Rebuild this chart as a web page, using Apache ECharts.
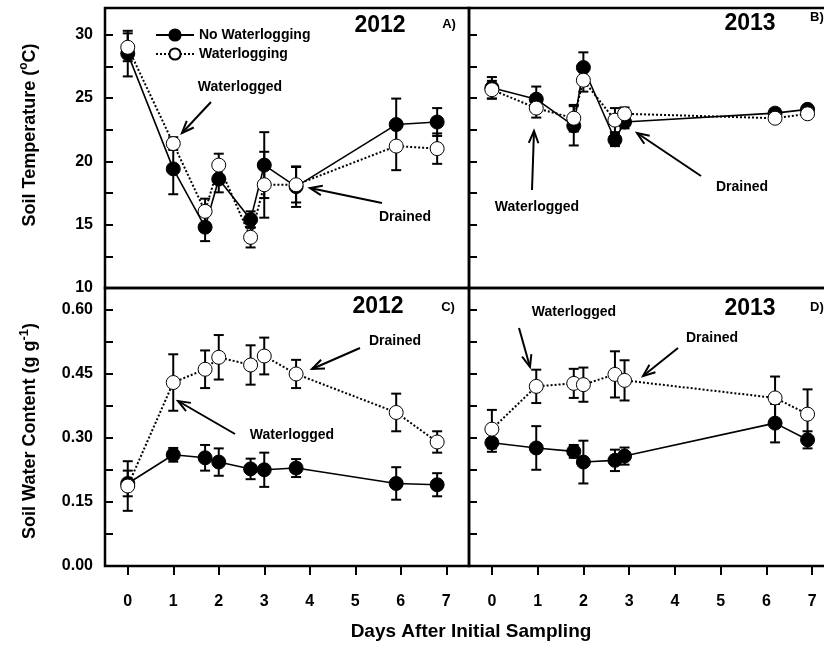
<!DOCTYPE html>
<html>
<head>
<meta charset="utf-8">
<script src="https://cdn.jsdelivr.net/npm/echarts/dist/echarts.min.js"></script>
<style>html,body{margin:0;padding:0;background:#fff;}#c{width:824px;height:648px;}</style>
</head>
<body>
<div id="c"></div>
<script>
// ---------- DATA ----------
const days2012 = [0, 1, 1.7, 2, 2.7, 3, 3.7, 5.9, 6.8];
const days2013 = [0, 0.97, 1.79, 2, 2.69, 2.9, 6.19, 6.9];
const xTicks = [0, 1, 2, 3, 4, 5, 6, 7];

const temp2012NoWL = [28.5, 19.4, 14.8, 18.6, 15.4, 19.7, 18.0, 22.9, 23.1];
const temp2012NoWLErr = [1.8, 2.0, 1.1, 1.05, 0.65, 2.6, 1.6, 2.05, 1.1];
const temp2012WL = [29.0, 21.4, 16.05, 19.7, 14.0, 18.15, 18.15, 21.2, 21.0];
const temp2012WLErr = [1.1, 0.5, 1.0, 0.9, 0.8, 2.6, 1.4, 1.9, 1.2];

const temp2013NoWL = [25.8, 24.9, 22.8, 27.4, 21.7, 23.1, 23.8, 24.1];
const temp2013NoWLErr = [0.85, 1.0, 1.55, 1.2, 0.5, 0.5, 0.3, 0.3];
const temp2013WL = [25.65, 24.2, 23.4, 26.4, 23.25, 23.75, 23.4, 23.75];
const temp2013WLErr = [0.7, 0.75, 1.05, 0.9, 0.95, 0.5, 0.3, 0.3];

const swc2012NoWL = [0.193, 0.26, 0.253, 0.243, 0.227, 0.225, 0.229, 0.193, 0.19];
const swc2012NoWLErr = [0.03, 0.016, 0.03, 0.032, 0.024, 0.04, 0.021, 0.038, 0.027];
const swc2012WL = [0.187, 0.429, 0.46, 0.488, 0.47, 0.491, 0.449, 0.359, 0.29];
const swc2012WLErr = [0.058, 0.066, 0.044, 0.052, 0.046, 0.043, 0.033, 0.044, 0.025];

const swc2013NoWL = [0.288, 0.276, 0.268, 0.243, 0.247, 0.257, 0.334, 0.295];
const swc2013NoWLErr = [0.021, 0.051, 0.015, 0.05, 0.025, 0.02, 0.045, 0.02];
const swc2013WL = [0.32, 0.42, 0.427, 0.424, 0.448, 0.434, 0.393, 0.355];
const swc2013WLErr = [0.045, 0.039, 0.034, 0.04, 0.054, 0.047, 0.05, 0.058];

// ---------- HELPERS ----------
const FONT = '"Liberation Sans", Arial, Helvetica, sans-serif';
const pts = (xs, ys) => xs.map((x, i) => [x, ys[i]]);
const errs = (xs, ys, es) => xs.map((x, i) => [x, ys[i] - es[i], ys[i] + es[i]]);

function errRender(params, api) {
  const x = api.value(0), lo = api.value(1), hi = api.value(2);
  const a = api.coord([x, lo]), b = api.coord([x, hi]);
  const w = 5;
  const st = { stroke: '#000', lineWidth: 2 };
  return { type: 'group', children: [
    { type: 'line', shape: { x1: a[0], y1: a[1], x2: b[0], y2: b[1] }, style: st },
    { type: 'line', shape: { x1: a[0] - w, y1: a[1], x2: a[0] + w, y2: a[1] }, style: st },
    { type: 'line', shape: { x1: b[0] - w, y1: b[1], x2: b[0] + w, y2: b[1] }, style: st }
  ]};
}

function panelSeries(idx, xs, yNo, eNo, yWL, eWL) {
  return [
    { type: 'custom', name: 'errNo' + idx, xAxisIndex: idx, yAxisIndex: idx, renderItem: errRender,
      data: errs(xs, yNo, eNo), encode: { x: 0, y: [1, 2] }, z: 2, silent: true },
    { type: 'custom', name: 'errWL' + idx, xAxisIndex: idx, yAxisIndex: idx, renderItem: errRender,
      data: errs(xs, yWL, eWL), encode: { x: 0, y: [1, 2] }, z: 2, silent: true },
    { type: 'line', name: 'No Waterlogging', xAxisIndex: idx, yAxisIndex: idx, data: pts(xs, yNo),
      symbol: 'circle', symbolSize: 14, z: 3, animation: false,
      itemStyle: { color: '#000', borderColor: '#000', borderWidth: 1 },
      lineStyle: { color: '#000', width: 1.6, type: 'solid' } },
    { type: 'line', name: 'Waterlogging', xAxisIndex: idx, yAxisIndex: idx, data: pts(xs, yWL),
      symbol: 'circle', symbolSize: 14, z: 4, animation: false,
      itemStyle: { color: '#fff', borderColor: '#000', borderWidth: 1 },
      lineStyle: { color: '#000', width: 2, type: 'dotted' } }
  ];
}

function xAxis(idx, bottom) {
  return {
    type: 'value', gridIndex: idx, min: -0.5, max: 7.5, position: 'bottom',
    axisLine: { show: false, onZero: false },
    splitLine: { show: false },
    axisTick: { show: bottom, inside: false, length: 9, lineStyle: { color: '#000', width: 2 }, customValues: xTicks },
    axisLabel: { show: bottom, margin: 28, color: '#000', fontFamily: FONT, fontWeight: 'bold', fontSize: 16, customValues: xTicks }
  };
}

function yAxis(idx, min, max, interval, labelStep, showLabel, decimals, labelMax) {
  return {
    type: 'value', gridIndex: idx, min: min, max: max, interval: interval, position: 'left',
    axisLine: { show: false, onZero: false },
    splitLine: { show: false },
    axisTick: { show: true, inside: true, length: 8, lineStyle: { color: '#000', width: 2 } },
    axisLabel: {
      show: showLabel, margin: 12, color: '#000', fontFamily: FONT, fontWeight: 'bold', fontSize: 16,
      formatter: function (v) {
        const r = v / labelStep;
        if (Math.abs(r - Math.round(r)) > 1e-6 || v > labelMax + 1e-9) return '';
        return v.toFixed(decimals);
      }
    }
  };
}

function arrow(x1, y1, x2, y2) {
  const ang = Math.atan2(y2 - y1, x2 - x1);
  const L = 13, spread = 0.38;
  const h1 = [x2 - L * Math.cos(ang - spread), y2 - L * Math.sin(ang - spread)];
  const h2 = [x2 - L * Math.cos(ang + spread), y2 - L * Math.sin(ang + spread)];
  return [
    { type: 'line', shape: { x1: x1, y1: y1, x2: x2, y2: y2 }, style: { stroke: '#000', lineWidth: 2 }, z: 10 },
    { type: 'polyline', shape: { points: [h1, [x2, y2], h2] }, style: { stroke: '#000', lineWidth: 2, fill: null }, z: 10 }
  ];
}
function label(text, x, y, size, align) {
  return { type: 'text', x: x, y: y, z: 10,
    style: { text: text, fill: '#000', font: 'bold ' + size + 'px ' + FONT, align: align || 'center', verticalAlign: 'middle' } };
}

// ---------- CHART ----------
const grids = [
  { left: 105, top: 8, width: 364, height: 280 },
  { left: 469, top: 8, width: 366, height: 280 },
  { left: 105, top: 288, width: 364, height: 278 },
  { left: 469, top: 288, width: 366, height: 278 }
].map(g => Object.assign(g, { show: true, borderColor: '#000', borderWidth: 2.5, backgroundColor: 'transparent',
  containLabel: false, outerBoundsMode: 'none' }));

const graphics = [].concat(
  label('2012', 380, 26, 23), label('A)', 449, 24, 13),
  label('Waterlogged', 240, 87, 14), arrow(211, 102, 182, 133),
  label('Drained', 405, 217, 14), arrow(382, 203, 310, 188),

  label('2013', 750, 24, 23), label('B)', 810, 17, 13, 'left'),
  label('Waterlogged', 537, 207, 14), arrow(532, 190, 534, 131),
  label('Drained', 742, 187, 14), arrow(701, 176, 637, 133),

  label('2012', 378, 307, 23), label('C)', 448, 307, 13),
  label('Drained', 395, 341, 14), arrow(360, 348, 312, 369),
  label('Waterlogged', 292, 435, 14), arrow(235, 434, 178, 401),

  label('2013', 750, 309, 23), label('D)', 810, 307, 13, 'left'),
  label('Waterlogged', 574, 312, 14), arrow(519, 328, 530, 367),
  label('Drained', 712, 338, 14), arrow(678, 348, 643, 376),

  [
    { type: 'text', x: 30, y: 135, rotation: Math.PI / 2, z: 10,
      style: { text: 'Soil Temperature ({sup|o}C)', fill: '#000', font: 'bold 18px ' + FONT, align: 'center', verticalAlign: 'middle',
        lineHeight: 24,
        rich: { sup: { font: 'bold 12px ' + FONT, fill: '#000', verticalAlign: 'top', lineHeight: 24, padding: [0, 0, 8, 0] } } } },
    { type: 'text', x: 30, y: 431, rotation: Math.PI / 2, z: 10,
      style: { text: 'Soil Water Content (g g{sup|-1})', fill: '#000', font: 'bold 18px ' + FONT, align: 'center', verticalAlign: 'middle',
        lineHeight: 24,
        rich: { sup: { font: 'bold 13px ' + FONT, fill: '#000', verticalAlign: 'top', lineHeight: 24, padding: [0, 0, 8, 0] } } } },
    label('Days After Initial Sampling', 471, 632, 19)
  ]
);

const chart = echarts.init(document.getElementById('c'), null, { renderer: 'canvas' });
chart.setOption({
  animation: false,
  backgroundColor: '#fff',
  grid: grids,
  legend: {
    left: 150, top: 23, orient: 'vertical', itemWidth: 38, itemHeight: 14, itemGap: 5,
    selectedMode: false, data: ['No Waterlogging', 'Waterlogging'],
    textStyle: { color: '#000', fontFamily: FONT, fontWeight: 'bold', fontSize: 14 }
  },
  xAxis: [xAxis(0, false), xAxis(1, false), xAxis(2, true), xAxis(3, true)],
  yAxis: [
    yAxis(0, 10, 32.1, 2.5, 5, true, 0, 30),
    yAxis(1, 10, 32.1, 2.5, 5, false, 0, 30),
    yAxis(2, 0, 0.65, 0.075, 0.15, true, 2, 0.6),
    yAxis(3, 0, 0.65, 0.075, 0.15, false, 2, 0.6)
  ],
  series: [].concat(
    panelSeries(0, days2012, temp2012NoWL, temp2012NoWLErr, temp2012WL, temp2012WLErr),
    panelSeries(1, days2013, temp2013NoWL, temp2013NoWLErr, temp2013WL, temp2013WLErr),
    panelSeries(2, days2012, swc2012NoWL, swc2012NoWLErr, swc2012WL, swc2012WLErr),
    panelSeries(3, days2013, swc2013NoWL, swc2013NoWLErr, swc2013WL, swc2013WLErr)
  ),
  graphic: graphics
});
</script>
</body>
</html>
